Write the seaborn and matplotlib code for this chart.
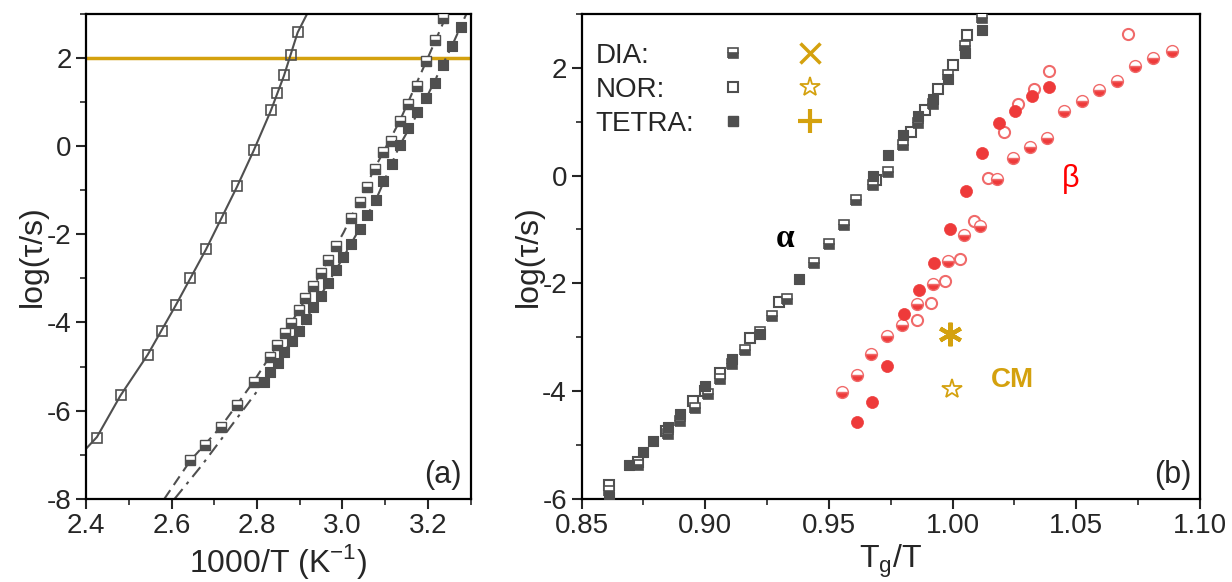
import numpy as np
import matplotlib
matplotlib.use("Agg")
import matplotlib.pyplot as plt
import seaborn as sns
from matplotlib.lines import Line2D
from matplotlib.legend_handler import HandlerTuple
from matplotlib.ticker import MultipleLocator

# %% Data, panel (a): log(tau) vs 1000/T
nor_x = [2.425, 2.481, 2.544, 2.577, 2.609, 2.644, 2.680, 2.716, 2.753, 2.792, 2.832, 2.847, 2.863, 2.879, 2.895]
nor_y = [-6.61, -5.64, -4.73, -4.19, -3.61, -2.98, -2.34, -1.64, -0.91, -0.08, 0.81, 1.20, 1.61, 2.06, 2.59]

dia_x = [2.644, 2.678, 2.715, 2.753, 2.792, 2.830, 2.847, 2.865, 2.880, 2.898, 2.913, 2.932, 2.950,
         2.967, 2.985, 3.021, 3.040, 3.057, 3.075, 3.095, 3.114, 3.134, 3.153, 3.174, 3.195, 3.216, 3.235]
dia_y = [-7.13, -6.79, -6.37, -5.88, -5.34, -4.79, -4.51, -4.24, -4.01, -3.72, -3.45, -3.18, -2.88,
         -2.58, -2.26, -1.63, -1.27, -0.92, -0.51, -0.14, 0.12, 0.57, 0.95, 1.36, 1.93, 2.42, 2.91]

tetra_x = [2.816, 2.831, 2.849, 2.864, 2.881, 2.898, 2.915, 2.932, 2.949, 2.966, 2.984, 3.002, 3.021,
           3.040, 3.058, 3.078, 3.095, 3.116, 3.134, 3.153, 3.174, 3.196, 3.216, 3.235, 3.256, 3.278]
tetra_y = [-5.35, -5.12, -4.91, -4.66, -4.43, -4.19, -3.92, -3.66, -3.39, -3.11, -2.82, -2.52, -2.21,
           -1.89, -1.57, -1.22, -0.80, -0.41, 0.02, 0.41, 0.78, 1.09, 1.43, 1.85, 2.27, 2.71]

# fit curves
nor_fit_x = [2.40, 2.425, 2.48, 2.544, 2.609, 2.68, 2.753, 2.792, 2.832, 2.863, 2.895, 2.917]
nor_fit_y = [-6.86, -6.60, -5.66, -4.73, -3.62, -2.35, -0.92, -0.10, 0.80, 1.60, 2.58, 3.0]
dia_fit_x = [2.583, 2.644, 2.715, 2.792, 2.865, 2.932, 3.003, 3.075, 3.134, 3.195, 3.245]
dia_fit_y = [-8.0, -7.13, -6.37, -5.34, -4.24, -3.18, -1.95, -0.51, 0.57, 1.90, 3.0]
tetra_fit_x = [2.607, 2.669, 2.72, 2.80, 2.864, 2.932, 3.002, 3.078, 3.134, 3.196, 3.256, 3.29]
tetra_fit_y = [-8.0, -7.26, -6.60, -5.56, -4.66, -3.66, -2.52, -1.22, 0.02, 1.09, 2.27, 3.0]

tg_level = 2.0

# %% Data, panel (b): log(tau) vs Tg/T
a_dia_x = [0.861, 0.873, 0.885, 0.890, 0.896, 0.901, 0.906, 0.911, 0.916, 0.922, 0.927, 0.933,
           0.944, 0.950, 0.956, 0.961, 0.968, 0.974, 0.980, 0.986, 0.992, 0.998, 1.005, 1.012]
a_dia_y = [-5.86, -5.38, -4.80, -4.56, -4.32, -4.05, -3.78, -3.49, -3.23, -2.91, -2.60, -2.29,
           -1.63, -1.27, -0.92, -0.46, -0.17, 0.07, 0.56, 0.97, 1.33, 1.86, 2.40, 2.92]
a_nor_x = [0.861, 0.873, 0.884, 0.895, 0.900, 0.906, 0.918, 0.930, 0.969, 0.983, 0.989, 0.994, 1.000, 1.006]
a_nor_y = [-5.74, -5.32, -4.74, -4.19, -4.00, -3.66, -3.01, -2.35, -0.09, 0.81, 1.22, 1.61, 2.06, 2.61]
a_tetra_x = [0.861, 0.869, 0.875, 0.879, 0.885, 0.890, 0.900, 0.911, 0.922, 0.938,
             0.968, 0.974, 0.980, 0.986, 0.992, 0.998, 1.005, 1.012]
a_tetra_y = [-5.96, -5.38, -5.14, -4.92, -4.67, -4.43, -3.91, -3.41, -2.95, -1.92,
             0.00, 0.39, 0.75, 1.11, 1.42, 1.80, 2.27, 2.70]

b_dia_x = [0.9555, 0.9614, 0.9672, 0.9735, 0.9797, 0.9856, 0.9920, 0.9982, 1.0046, 1.0111, 1.0180,
           1.0245, 1.0313, 1.0381, 1.0452, 1.0522, 1.0593, 1.0664, 1.0738, 1.0812, 1.0886]
b_dia_y = [-4.01, -3.71, -3.32, -2.98, -2.78, -2.38, -2.02, -1.58, -1.10, -0.94, -0.07,
           0.33, 0.53, 0.69, 1.19, 1.38, 1.58, 1.75, 2.03, 2.19, 2.31]
b_nor_x = [0.9856, 0.9914, 0.9968, 1.0028, 1.0085, 1.0145, 1.0206, 1.0266, 1.0328, 1.0388, 1.0710]
b_nor_y = [-2.68, -2.37, -1.95, -1.54, -0.85, -0.04, 0.80, 1.32, 1.60, 1.94, 2.62]
b_tetra_x = [0.9615, 0.9676, 0.9735, 0.9802, 0.9863, 0.9925, 0.9991, 1.0055, 1.0120, 1.0187,
             1.0254, 1.0321, 1.0391]
b_tetra_y = [-4.57, -4.20, -3.53, -2.57, -2.13, -1.62, -1.00, -0.28, 0.42, 0.97, 1.19, 1.47, 1.64]

cm_dia_x = [0.9988]
cm_dia_y = [-2.95]
cm_nor_x = [0.9999]
cm_nor_y = [-3.97]

legend_labels = ["DIA:", "NOR:", "TETRA:"]

# %% Style
sns.set_theme(style="ticks")
plt.rcParams["font.family"] = ["Liberation Sans", "DejaVu Sans"]
plt.rcParams["axes.unicode_minus"] = False
plt.rcParams["mathtext.fontset"] = "custom"
plt.rcParams["mathtext.rm"] = "Liberation Sans"

grey = "#4f4f4f"
red = "#ee3a3a"
red_edge = "#f06a6a"
gold = "#d4a10e"
ms = 6.5
fs_tick = 20
fs_label = 23

fig = plt.figure(figsize=(12.32, 5.82), dpi=100)
ax1 = fig.add_axes([0.070, 0.143, 0.312, 0.833])
ax2 = fig.add_axes([0.472, 0.143, 0.502, 0.833])

# %% Panel (a)
ax1.axhline(tg_level, color=gold, lw=2.5, zorder=1)
sns.lineplot(x=nor_fit_x, y=nor_fit_y, ax=ax1, color=grey, lw=1.5, sort=False, estimator=None)
sns.lineplot(x=dia_fit_x, y=dia_fit_y, ax=ax1, color=grey, lw=1.5, sort=False, estimator=None,
             linestyle=(0, (5, 3)))
sns.lineplot(x=tetra_fit_x, y=tetra_fit_y, ax=ax1, color=grey, lw=1.5, sort=False, estimator=None,
             linestyle=(0, (6, 3, 1.5, 3)))
ax1.plot(nor_x, nor_y, ls="none", marker="s", ms=ms, mfc="none", mec=grey, mew=1.2, zorder=3)
ax1.plot(dia_x, dia_y, ls="none", marker="s", ms=ms, fillstyle="bottom", mfc=grey,
         markerfacecoloralt="white", mec=grey, mew=1.0, zorder=3)
sns.scatterplot(x=tetra_x, y=tetra_y, ax=ax1, marker="s", s=45, color=grey, edgecolor=grey,
                linewidth=0.8, zorder=3)

ax1.set_xlim(2.4, 3.3)
ax1.set_ylim(-8, 3)
ax1.xaxis.set_major_locator(MultipleLocator(0.2))
ax1.xaxis.set_minor_locator(MultipleLocator(0.1))
ax1.yaxis.set_major_locator(MultipleLocator(2))
ax1.yaxis.set_minor_locator(MultipleLocator(1))
ax1.set_xlabel(r"1000/T (K$^\mathregular{-1}$)", fontsize=fs_label, labelpad=2)
ax1.set_ylabel("log(τ/s)", fontsize=fs_label, labelpad=-1)
ax1.text(3.235, -7.45, "(a)", fontsize=22, ha="center", va="center")

# %% Panel (b)
ax2.plot(a_nor_x, a_nor_y, ls="none", marker="s", ms=ms, mfc="white", mec=grey, mew=1.5, zorder=3)
ax2.plot(a_dia_x, a_dia_y, ls="none", marker="s", ms=ms + 0.5, fillstyle="bottom", mfc=grey,
         markerfacecoloralt="white", mec=grey, mew=1.2, zorder=3)
sns.scatterplot(x=a_tetra_x, y=a_tetra_y, ax=ax2, marker="s", s=50, color=grey, edgecolor=grey,
                linewidth=0.8, zorder=3)

ax2.plot(b_nor_x, b_nor_y, ls="none", marker="o", ms=8, mfc="white", mec=red_edge, mew=1.5, zorder=3)
ax2.plot(b_dia_x, b_dia_y, ls="none", marker="o", ms=8.5, fillstyle="bottom", mfc=red,
         markerfacecoloralt="white", mec=red_edge, mew=1.0, zorder=3)
sns.scatterplot(x=b_tetra_x, y=b_tetra_y, ax=ax2, marker="o", s=75, color=red, edgecolor=red,
                linewidth=0.5, zorder=3)

ax2.plot(cm_dia_x, cm_dia_y, ls="none", marker=(6, 2, 0), ms=17, mec=gold, mew=3, zorder=4)
ax2.plot(cm_nor_x, cm_nor_y, ls="none", marker="*", ms=15, mfc="white", mec=gold, mew=1.3, zorder=4)

ax2.text(0.9323, -1.17, "α", fontsize=24, color="black", ha="center", va="center",
         family=["Liberation Serif", "DejaVu Serif"], fontweight="bold")
ax2.text(1.0478, -0.07, "β", fontsize=22, color="red", ha="center", va="center")
ax2.text(1.0243, -3.80, "CM", fontsize=20, color=gold, fontweight="bold", ha="center", va="center")
ax2.text(1.089, -5.55, "(b)", fontsize=22, ha="center", va="center")

# legend: label column, then grey square + gold marker column
dummy = [Line2D([], [], ls="none") for _ in legend_labels]
leg_text = ax2.legend(dummy, legend_labels, loc="upper left", bbox_to_anchor=(0.023, 0.94),
                      frameon=False, fontsize=20, handlelength=0, handletextpad=0,
                      labelspacing=0.28, borderpad=0, borderaxespad=0)
ax2.add_artist(leg_text)

h_dia = (Line2D([], [], ls="none", marker="s", ms=ms, fillstyle="bottom", mfc=grey,
                markerfacecoloralt="white", mec=grey, mew=1.2),
         Line2D([], [], ls="none", marker="x", ms=14, mec=gold, mew=2.5))
h_nor = (Line2D([], [], ls="none", marker="s", ms=ms, mfc="white", mec=grey, mew=1.5),
         Line2D([], [], ls="none", marker="*", ms=15, mfc="white", mec=gold, mew=1.3))
h_tetra = (Line2D([], [], ls="none", marker="s", ms=ms, mfc=grey, mec=grey),
           Line2D([], [], ls="none", marker="+", ms=17, mec=gold, mew=3))
ax2.legend([h_dia, h_nor, h_tetra], [" "] * 3, loc="upper left",
           bbox_to_anchor=(0.204, 0.94), frameon=False, fontsize=20,
           handler_map={tuple: HandlerTuple(ndivide=None, pad=1.0)}, handlelength=4.6,
           handletextpad=0, labelspacing=0.28, borderpad=0, borderaxespad=0)

ax2.set_xlim(0.85, 1.10)
ax2.set_ylim(-6, 3)
ax2.xaxis.set_major_locator(MultipleLocator(0.05))
ax2.xaxis.set_minor_locator(MultipleLocator(0.025))
ax2.yaxis.set_major_locator(MultipleLocator(2))
ax2.yaxis.set_minor_locator(MultipleLocator(1))
ax2.set_xticklabels([f"{v:.2f}" for v in ax2.get_xticks()])
ax2.set_xlabel(r"T$_\mathregular{g}$/T", fontsize=fs_label, labelpad=2)
ax2.set_ylabel("log(τ/s)", fontsize=fs_label, labelpad=-1)

for ax in (ax1, ax2):
    for sp in ax.spines.values():
        sp.set_linewidth(1.6)
        sp.set_color("black")
    ax.tick_params(which="major", direction="out", length=7, width=1.5, labelsize=fs_tick,
                   top=False, right=False)
    ax.tick_params(which="minor", direction="out", length=4, width=1.2, top=False, right=False)
    ax.grid(False)

fig.savefig("out.png", dpi=100)
